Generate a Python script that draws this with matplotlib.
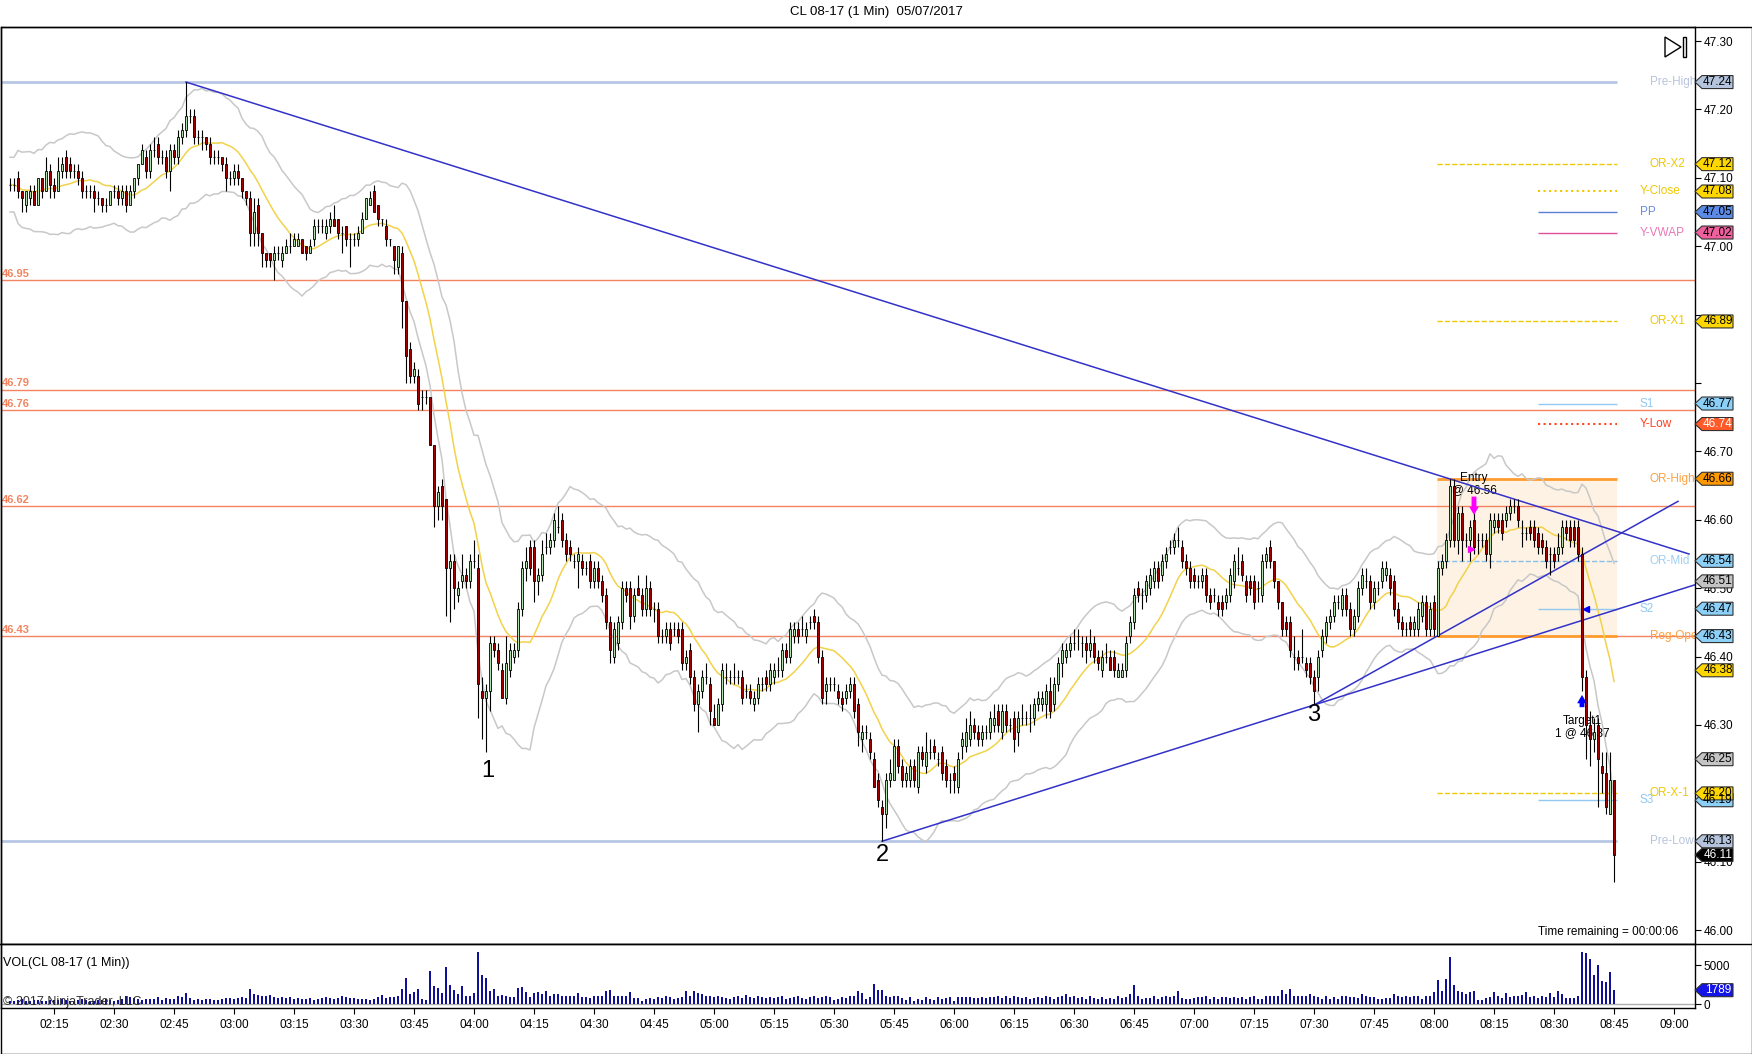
import numpy as np
import pandas as pd
import matplotlib
matplotlib.use('Agg')
import matplotlib.pyplot as plt
from matplotlib.patches import Rectangle, Polygon
from matplotlib.lines import Line2D

plt.rcParams['font.family'] = ['Liberation Sans', 'DejaVu Sans']

# CL 08-17, 1 min bars, first bar at 02:04; prices in cents above 46.00
start_minute = 2 * 60 + 4
opens = [
    109, 109, 110, 108, 106, 107, 108, 106, 110, 108,
    111, 109, 108, 111, 113, 112, 111, 111, 110, 108,
    108, 108, 107, 107, 106, 106, 108, 108, 107, 108,
    106, 108, 110, 112, 113, 111, 114, 115, 113, 113,
    111, 114, 113, 116, 117, 119, 119, 116, 116, 116,
    115, 113, 113, 113, 112, 110, 110, 111, 110, 108,
    107, 102, 106, 102, 99, 99, 98, 99, 98, 99,
    100, 100, 100, 101, 100, 99, 101, 103, 103, 102,
    103, 104, 104, 102, 103, 101, 101, 101, 102, 104,
    106, 108, 106, 104, 103, 101, 100, 97, 99, 92,
    85, 81, 81, 78, 78, 78, 71, 62, 65, 63,
    53, 54, 49, 51, 52, 51, 54, 53, 35, 34,
    35, 42, 41, 38, 34, 38, 40, 41, 47, 53,
    56, 56, 51, 52, 56, 56, 57, 59, 60, 57,
    56, 54, 54, 54, 53, 54, 51, 53, 51, 49,
    45, 40, 42, 45, 50, 50, 46, 50, 49, 47,
    50, 47, 47, 43, 43, 44, 44, 44, 44, 39,
    41, 37, 33, 35, 37, 36, 31, 30, 33, 37,
    37, 37, 37, 37, 35, 35, 33, 34, 36, 37,
    36, 37, 38, 38, 41, 40, 43, 44, 44, 43,
    45, 46, 45, 40, 35, 36, 36, 35, 34, 34,
    35, 36, 33, 28, 29, 28, 25, 22, 18, 17,
    22, 22, 27, 24, 22, 22, 24, 21, 26, 24,
    26, 27, 25, 26, 24, 22, 23, 21, 27, 27,
    28, 30, 29, 28, 29, 29, 30, 32, 29, 32,
    30, 31, 29, 31, 31, 31, 31, 33, 33, 33,
    35, 33, 36, 39, 40, 41, 42, 43, 42, 42,
    41, 42, 40, 38, 40, 40, 40, 37, 37, 38,
    43, 45, 50, 49, 49, 50, 51, 53, 52, 54,
    56, 56, 57, 56, 54, 53, 52, 51, 51, 52,
    49, 49, 48, 48, 48, 49, 51, 53, 54, 51,
    51, 51, 50, 49, 54, 56, 54, 51, 48, 45,
    45, 40, 40, 40, 39, 39, 37, 37, 41, 43,
    45, 46, 48, 47, 49, 47, 44, 46, 50, 51,
    51, 48, 50, 51, 52, 52, 51, 47, 45, 44,
    45, 44, 44, 46, 48, 44, 48, 43, 53, 54,
    57, 65, 57, 61, 57, 57, 60, 57, 57, 57,
    55, 59, 60, 60, 60, 61, 62, 62, 58, 58,
    59, 59, 58, 57, 56, 55, 55, 55, 56, 59,
    59, 59, 59, 55, 37, 30, 28, 30, 24, 23, 17, 22,
]
highs = [
    110, 110, 111, 108, 108, 109, 109, 110, 110, 113,
    112, 110, 113, 113, 114, 113, 112, 112, 111, 109,
    109, 109, 108, 107, 107, 108, 109, 109, 109, 109,
    109, 110, 112, 115, 114, 115, 116, 116, 114, 114,
    115, 115, 117, 118, 124, 120, 120, 117, 117, 116,
    116, 114, 114, 113, 113, 111, 112, 112, 110, 108,
    108, 107, 107, 102, 99, 99, 100, 100, 100, 101,
    102, 102, 102, 101, 100, 101, 104, 104, 104, 104,
    105, 106, 104, 103, 103, 102, 102, 103, 105, 107,
    108, 109, 106, 104, 104, 101, 100, 100, 100, 92,
    86, 83, 82, 79, 79, 78, 71, 65, 66, 63,
    55, 55, 51, 55, 53, 55, 57, 55, 37, 36,
    43, 43, 42, 39, 43, 42, 42, 48, 54, 56,
    57, 57, 53, 57, 58, 58, 61, 62, 61, 58,
    57, 55, 56, 55, 54, 55, 54, 54, 52, 50,
    46, 45, 46, 51, 51, 51, 50, 52, 50, 52,
    51, 48, 48, 44, 45, 45, 45, 45, 45, 41,
    42, 38, 36, 38, 39, 37, 33, 34, 39, 39,
    38, 39, 38, 38, 36, 36, 35, 37, 37, 38,
    39, 39, 40, 42, 42, 45, 45, 45, 46, 45,
    46, 47, 46, 41, 37, 37, 37, 36, 35, 36,
    37, 37, 34, 30, 30, 29, 26, 23, 19, 23,
    25, 28, 28, 25, 24, 25, 25, 27, 27, 29,
    28, 28, 26, 27, 25, 23, 24, 26, 29, 31,
    32, 31, 30, 30, 30, 32, 33, 33, 33, 33,
    31, 32, 32, 33, 32, 33, 34, 35, 35, 36,
    37, 37, 40, 42, 42, 43, 44, 44, 43, 43,
    44, 43, 41, 41, 42, 41, 41, 39, 39, 43,
    46, 50, 51, 50, 52, 53, 54, 54, 55, 56,
    57, 58, 59, 57, 55, 54, 53, 52, 53, 53,
    50, 50, 49, 49, 50, 53, 55, 56, 55, 52,
    52, 52, 51, 55, 56, 57, 54, 51, 48, 46,
    46, 43, 41, 44, 40, 40, 38, 41, 44, 46,
    47, 49, 49, 50, 50, 48, 47, 51, 53, 53,
    52, 51, 51, 54, 54, 53, 52, 48, 46, 45,
    46, 46, 48, 49, 49, 48, 49, 54, 55, 58,
    66, 66, 62, 62, 58, 60, 61, 58, 58, 58,
    61, 61, 61, 61, 62, 63, 63, 63, 60, 59,
    60, 60, 59, 58, 57, 56, 56, 58, 60, 60,
    60, 60, 60, 56, 38, 32, 31, 31, 26, 26, 26, 22,
]
lows = [
    108, 108, 107, 105, 105, 106, 106, 106, 107, 108,
    107, 107, 108, 110, 110, 110, 110, 109, 107, 107,
    107, 105, 106, 105, 105, 106, 107, 106, 106, 105,
    106, 107, 109, 112, 110, 110, 113, 112, 112, 110,
    108, 112, 112, 115, 116, 118, 115, 115, 114, 114,
    112, 112, 112, 111, 108, 109, 109, 109, 107, 106,
    100, 100, 100, 97, 97, 97, 95, 98, 97, 99,
    99, 100, 100, 99, 98, 99, 100, 102, 102, 101,
    102, 103, 101, 99, 100, 97, 100, 100, 102, 104,
    106, 105, 103, 103, 100, 100, 96, 96, 88, 80,
    80, 80, 76, 76, 77, 71, 59, 60, 60, 46,
    45, 47, 48, 50, 50, 50, 53, 31, 28, 26,
    32, 40, 38, 34, 33, 37, 39, 40, 46, 51,
    52, 48, 49, 51, 55, 55, 56, 58, 56, 54,
    54, 53, 50, 52, 52, 50, 50, 50, 48, 44,
    39, 39, 41, 44, 48, 44, 45, 49, 46, 46,
    46, 45, 42, 42, 42, 41, 43, 42, 38, 38,
    36, 32, 29, 34, 36, 30, 30, 30, 32, 36,
    36, 36, 36, 33, 34, 33, 32, 33, 35, 35,
    35, 36, 37, 37, 39, 39, 42, 42, 43, 42,
    44, 44, 39, 33, 33, 35, 35, 33, 32, 33,
    34, 31, 27, 26, 28, 25, 21, 18, 13, 15,
    21, 22, 23, 21, 21, 21, 21, 20, 24, 23,
    25, 25, 24, 22, 21, 20, 20, 20, 25, 26,
    27, 28, 27, 27, 28, 28, 29, 29, 28, 29,
    29, 26, 27, 30, 30, 29, 30, 32, 32, 31,
    31, 32, 35, 37, 39, 40, 41, 41, 40, 39,
    40, 39, 38, 37, 39, 38, 37, 37, 37, 37,
    42, 44, 48, 47, 48, 49, 50, 50, 51, 53,
    55, 55, 56, 53, 52, 50, 50, 50, 50, 48,
    47, 48, 46, 46, 47, 48, 50, 52, 51, 48,
    49, 47, 48, 48, 53, 53, 50, 47, 43, 43,
    40, 38, 38, 39, 37, 36, 33, 35, 40, 42,
    44, 45, 47, 46, 46, 43, 43, 45, 49, 50,
    47, 47, 49, 50, 51, 49, 46, 44, 43, 43,
    43, 43, 43, 45, 43, 43, 43, 43, 52, 53,
    56, 56, 55, 54, 56, 54, 55, 55, 56, 54,
    53, 58, 58, 57, 59, 60, 61, 59, 56, 57,
    57, 56, 55, 55, 53, 52, 53, 54, 55, 57,
    56, 56, 54, 35, 25, 24, 26, 18, 20, 17, 17, 7,
]
closes = [
    109, 109, 108, 107, 108, 108, 106, 110, 108, 111,
    109, 108, 111, 112, 111, 111, 111, 110, 108, 108,
    108, 107, 107, 106, 106, 108, 108, 107, 108, 106,
    108, 110, 112, 114, 111, 114, 114, 113, 113, 111,
    114, 113, 116, 117, 119, 119, 116, 116, 116, 115,
    113, 113, 113, 112, 110, 110, 111, 110, 108, 107,
    102, 105, 102, 99, 98, 98, 99, 99, 99, 100,
    100, 101, 101, 99, 99, 100, 103, 103, 103, 103,
    104, 103, 102, 102, 101, 101, 101, 102, 104, 107,
    107, 105, 104, 104, 101, 101, 98, 100, 92, 84,
    81, 82, 77, 78, 78, 71, 62, 64, 62, 53,
    54, 50, 50, 52, 51, 54, 54, 36, 34, 35,
    42, 41, 39, 34, 39, 41, 41, 47, 53, 54,
    53, 51, 52, 55, 56, 57, 60, 59, 57, 55,
    55, 54, 55, 53, 53, 51, 53, 51, 49, 45,
    41, 44, 45, 50, 49, 46, 49, 49, 47, 50,
    47, 47, 43, 43, 44, 42, 44, 43, 39, 40,
    37, 33, 35, 37, 37, 32, 30, 33, 38, 37,
    37, 37, 37, 34, 35, 34, 34, 36, 36, 36,
    38, 38, 38, 41, 40, 44, 44, 43, 44, 44,
    45, 45, 40, 34, 36, 36, 36, 34, 33, 35,
    36, 32, 29, 29, 29, 26, 21, 19, 17, 22,
    23, 27, 24, 22, 23, 24, 22, 26, 25, 26,
    26, 26, 25, 23, 22, 22, 22, 25, 28, 29,
    30, 29, 28, 29, 29, 31, 31, 30, 32, 30,
    30, 28, 31, 31, 31, 31, 33, 34, 34, 35,
    32, 36, 39, 41, 41, 42, 42, 43, 42, 41,
    42, 40, 39, 40, 40, 38, 38, 38, 38, 42,
    45, 49, 49, 49, 51, 52, 53, 51, 54, 55,
    56, 57, 57, 54, 53, 51, 51, 51, 52, 49,
    48, 49, 47, 47, 49, 52, 54, 53, 52, 49,
    50, 48, 50, 54, 55, 54, 51, 48, 44, 44,
    41, 40, 39, 40, 38, 37, 35, 40, 43, 45,
    46, 48, 48, 49, 47, 44, 46, 50, 52, 51,
    48, 50, 50, 53, 53, 50, 47, 45, 44, 44,
    44, 45, 47, 48, 44, 47, 44, 53, 54, 57,
    65, 57, 61, 57, 57, 59, 56, 57, 57, 55,
    60, 60, 59, 58, 61, 62, 62, 60, 58, 58,
    58, 57, 56, 56, 54, 55, 54, 56, 59, 58,
    57, 57, 55, 37, 30, 28, 29, 25, 23, 18, 22, 11,
]
volumes = [
    450, 380, 520, 610, 430, 390, 480, 560, 420, 350, 470,
    540, 480, 610, 520, 430, 380, 460, 700, 520, 410, 390, 480, 560, 620, 510,
    450, 520, 680, 1010, 940, 760, 620, 580, 640, 700, 610, 880, 560, 720, 650,
    590, 1100, 860, 1430, 780, 560, 610, 530, 590, 620, 480, 570, 660, 720, 840,
    600, 720, 930, 820, 1940, 1350, 1180, 1090, 980, 1140, 860, 790, 920, 760, 850,
    700, 820, 640, 590, 770, 560, 640, 720, 900, 810, 700, 760, 1000, 920, 780,
    840, 700, 620, 690, 560, 620, 880, 1200, 740, 960, 880, 1100, 1940, 3370, 1300,
    1510, 1940, 650, 520, 4280, 2290, 2030, 1430, 4800, 2460, 1860, 1300, 2290, 1000, 1000,
    1430, 6780, 3800, 3370, 1730, 1940, 1000, 1170, 1080, 860, 860, 2070, 2160, 1510, 860,
    1430, 1600, 1300, 1680, 1000, 1300, 1300, 1080, 1000, 1000, 1000, 1430, 860, 860, 730,
    1000, 1000, 1000, 1730, 1860, 1080, 1000, 1000, 1000, 1600, 730, 730, 430, 650, 730,
    650, 860, 730, 1000, 860, 600, 730, 860, 1730, 1000, 1730, 1430, 1300, 1080, 1000,
    860, 1000, 860, 730, 650, 860, 1000, 730, 1200, 860, 730, 1000, 860, 730, 860,
    730, 860, 1000, 650, 730, 860, 1080, 730, 650, 860, 1000, 730, 860, 1000, 860,
    500, 650, 860, 730, 1000, 1080, 1650, 1400, 650, 860, 2590, 1860, 1860, 1080, 860,
    1080, 1080, 730, 500, 860, 430, 650, 500, 860, 650, 500, 860, 650, 730, 860,
    430, 860, 860, 860, 860, 730, 730, 860, 730, 860, 860, 1000, 730, 1000, 730,
    1000, 860, 730, 860, 650, 730, 860, 730, 1000, 860, 650, 860, 1080, 1300, 860,
    1000, 730, 860, 650, 1000, 730, 650, 860, 650, 730, 650, 1080, 730, 860, 1300,
    2460, 1080, 650, 730, 730, 1000, 650, 860, 1000, 860, 1000, 1680, 730, 650, 650,
    730, 860, 860, 1000, 650, 860, 650, 860, 860, 730, 860, 730, 860, 650, 860,
    1000, 650, 650, 1000, 1000, 1000, 1000, 1800, 1300, 1940, 1080, 1080, 1080, 1000, 1300,
    1000, 860, 650, 1000, 650, 860, 650, 1080, 1000, 860, 860, 730, 1300, 1000, 860,
    860, 650, 650, 730, 730, 1300, 1000, 860, 1000, 860, 1080, 1000, 650, 1000, 1000,
    1600, 3150, 1730, 3280, 6050, 2500, 1640, 1510, 1340, 1510, 1640, 560, 560, 780, 860,
    1600, 990, 730, 1470, 860, 990, 990, 1210, 1600, 860, 990, 780, 990, 860, 1470,
    860, 1730, 1340, 780, 780, 780, 990, 6740, 6610, 5880, 3800, 5100, 2940, 2800, 4190, 1789,
]

# key levels drawn near the right edge
level_names = ['Pre-High', 'OR-X2', 'Y-Close', 'PP', 'Y-VWAP', 'OR-X1', 'S1', 'Y-Low',
               'OR-High', 'OR-Mid', 'S2', 'Reg-Open', 'S3', 'OR-X-1', 'Pre-Low']
level_values = [47.24, 47.12, 47.08, 47.05, 47.02, 46.89, 46.77, 46.74,
                46.66, 46.54, 46.47, 46.43, 46.19, 46.20, 46.13]
full_lines = [46.95, 46.79, 46.76, 46.62, 46.43]
extra_tags = [46.51, 46.38, 46.25]
last_price = 46.11
last_volume = 1789

# swing points 1, 2, 3 and the trend lines (bar index, price)
swing_labels = ['1', '2', '3']
swing_x = [119.5, 218, 326]
swing_y = [46.233, 46.11, 46.315]
trend_lines = [((44, 47.24), (419.75, 46.55)),
               ((218, 46.13), (421.25, 46.505)),
               ((326.25, 46.33), (417, 46.627))]

n = len(closes)
o = 46 + np.array(opens) / 100
c = 46 + np.array(closes) / 100
h = np.maximum(46 + np.array(highs) / 100, np.maximum(o, c))
l = np.minimum(46 + np.array(lows) / 100, np.minimum(o, c))
x = np.arange(n)

sma = pd.Series(c).rolling(14, min_periods=1).mean().values
rng = pd.Series(h - l).rolling(14, min_periods=1).mean().values
upper = sma + 2 * rng
lower = sma - 2 * rng

W, H = 1752, 1054
fig = plt.figure(figsize=(W / 100, H / 100), dpi=100)
AX_L, AX_R = 0.5, 1695.0
ax = fig.add_axes([AX_L / W, 1 - 944 / H, (AX_R - AX_L) / W, 917 / H])
axv = fig.add_axes([AX_L / W, 1 - 1008 / H, (AX_R - AX_L) / W, 64 / H], sharex=ax)

def xf(px):
    return (px - AX_L) / (AX_R - AX_L)

def tag(a, y, txt, fc, tc='black', half=0.0095, z=20):
    pts = [(xf(1695), y), (xf(1702), y + half), (xf(1733), y + half),
           (xf(1733), y - half), (xf(1702), y - half)]
    a.add_patch(Polygon(pts, closed=True, transform=a.get_yaxis_transform(), facecolor=fc,
                        edgecolor='#303030', lw=0.8, clip_on=False, zorder=z))
    a.text(xf(1718), y, txt, transform=a.get_yaxis_transform(), ha='center', va='center',
           fontsize=8.5, color=tc, clip_on=False, zorder=z + 1)

# opening range box
ax.add_patch(Rectangle((356.75, 46.43), 45, 0.23, facecolor='#fdf2e4', edgecolor='none', zorder=0.5))

for v in full_lines:
    ax.axhline(v, color='#f4845f', lw=1, zorder=1)
    ax.text(-2, v + 0.002, f'{v:.2f}', color='#f4845f', fontsize=8, fontweight='bold', va='bottom', zorder=2)

styles = {
    'Pre-High': dict(c='#b8c6e6', ls='-', lw=2, x0=-2.5, tc='#b8c4dc', fc='#b4c4dc', tx=410),
    'OR-X2': dict(c='#f0c800', ls='--', lw=1, x0=356.75, tc='#f0c800', fc='#ffd700', tx=410),
    'Y-Close': dict(c='#f0c800', ls=':', lw=1.5, x0=382, tc='#f0c800', fc='#ffd700', tx=407.5),
    'PP': dict(c='#5b7fd6', ls='-', lw=1, x0=382, tc='#6a8ce0', fc='#5b8be6', tx=407.5),
    'Y-VWAP': dict(c='#e0509a', ls='-', lw=1, x0=382, tc='#e878b8', fc='#f0609e', tx=407.5),
    'OR-X1': dict(c='#f0c800', ls='--', lw=1, x0=356.75, tc='#f0c800', fc='#ffd700', tx=410),
    'S1': dict(c='#90c8f0', ls='-', lw=1, x0=382, tc='#90c8f0', fc='#8cd0f8', tx=407.5),
    'Y-Low': dict(c='#ff4820', ls=':', lw=1.5, x0=382, tc='#ff4020', fc='#ff5a28', tx=407.5),
    'OR-High': dict(c='#ff9c30', ls='-', lw=2, x0=356.75, tc='#ffa040', fc='#ff9900', tx=410),
    'OR-Mid': dict(c='#88c0ec', ls='--', lw=1, x0=356.75, tc='#a0d0f0', fc='#8cd0f8', tx=410),
    'S2': dict(c='#90c8f0', ls='-', lw=1, x0=382, tc='#90c8f0', fc='#8cd0f8', tx=407.5),
    'Reg-Open': dict(c='#ff9c30', ls='-', lw=2, x0=356.75, tc='#ffa040', fc='#8cd0f8', tx=410),
    'S3': dict(c='#90c8f0', ls='-', lw=1, x0=382, tc='#90c8f0', fc='#8cd0f8', tx=407.5),
    'OR-X-1': dict(c='#f0c800', ls='--', lw=1, x0=356.75, tc='#f0c800', fc='#ffd700', tx=410),
    'Pre-Low': dict(c='#b8c6e6', ls='-', lw=2, x0=-2.5, tc='#b8c4dc', fc='#b4c4dc', tx=410),
}
for name, v in zip(level_names, level_values):
    s = styles[name]
    ax.hlines(v, s['x0'], 401.75, colors=s['c'], linestyles=s['ls'], lw=s['lw'], zorder=1.5)
    ax.text(s['tx'], v, name, color=s['tc'], fontsize=8.5, va='center', ha='left', zorder=2)
    tag(ax, v, f'{v:.2f}', s['fc'], 'white' if name == 'Y-Low' else 'black')

for v, fc in zip(extra_tags, ['#c4c4c4', '#ffd700', '#c4c4c4']):
    tag(ax, v, f'{v:.2f}', fc)
tag(ax, last_price, f'{last_price:.2f}', '#000000', 'white', z=30)

# Keltner-style bands and moving average
ax.plot(x, upper, color='#c8c8c8', lw=1.1, zorder=2)
ax.plot(x, lower, color='#c8c8c8', lw=1.1, zorder=2)
ax.plot(x, sma, color='#f2d24a', lw=1.1, zorder=2.2)

for (x0, y0), (x1, y1) in trend_lines:
    ax.plot([x0, x1], [y0, y1], color='#3232c8', lw=1.1, zorder=2.5)

# candles
ax.vlines(x, l, h, color='black', lw=0.8, zorder=3)
for i in range(n):
    up = c[i] >= o[i]
    ax.add_patch(Rectangle((i - 0.32, min(o[i], c[i])), 0.64, abs(c[i] - o[i]),
                           facecolor='#b4e0b0' if up else '#a40000',
                           edgecolor='black', lw=0.6, zorder=4))

for t, sx, sy in zip(swing_labels, swing_x, swing_y):
    ax.text(sx, sy, t, fontsize=17, ha='center', va='center', zorder=5)

# trade markers
ax.annotate('', xy=(366, 46.603), xytext=(366, 46.638),
            arrowprops=dict(arrowstyle='simple,head_width=0.7,head_length=0.6,tail_width=0.35',
                            color='#ff00ff', lw=0), zorder=6)
ax.plot([365.2], [46.558], marker='>', color='#ff00ff', ms=5, zorder=6)
ax.annotate('', xy=(393, 46.348), xytext=(393, 46.322),
            arrowprops=dict(arrowstyle='simple,head_width=0.7,head_length=0.6,tail_width=0.35',
                            color='#0000ff', lw=0), zorder=6)
ax.plot([394], [46.47], marker='<', color='#0000ff', ms=5, zorder=6)
ax.text(366, 46.652, 'Entry\n@ 46.56', fontsize=8.5, ha='center', va='center', linespacing=1.0, zorder=2)
ax.text(393, 46.297, 'Target1\n1 @ 46.37', fontsize=8.5, ha='center', va='center', linespacing=1.0, zorder=2)
ax.text(417, 45.998, 'Time remaining = 00:00:06', fontsize=8.5, ha='right', va='center')

ax.set_xlim(-2.375, 421.25)
ax.set_ylim(45.9798, 47.3205)
yt = np.round(np.arange(46.0, 47.31, 0.1), 2)
ax.yaxis.tick_right()
ax.set_yticks(yt)
ax.set_yticklabels(['' if v in (46.9, 46.8, 46.2) else f'{v:.2f}' for v in yt])
ax.tick_params(axis='y', length=4, pad=2, labelsize=8.5, direction='out')
ax.tick_params(axis='x', bottom=False, labelbottom=False)

# volume panel
axv.bar(x, volumes, width=0.45, color='#10109a', zorder=3)
axv.axhline(0, color='#b0b0b0', lw=1, zorder=2)
axv.set_ylim(-518, 7772)
axv.yaxis.tick_right()
axv.set_yticks([0, 5000])
axv.set_yticklabels(['0', '5000'])
axv.tick_params(axis='y', length=4, pad=2, labelsize=8.5)
xt = np.arange(11, 420, 15)
axv.set_xticks(xt)
axv.set_xticklabels([f'{(start_minute + i) // 60:02d}:{(start_minute + i) % 60:02d}' for i in xt])
axv.tick_params(axis='x', length=4, pad=4, labelsize=8.5)
tag(axv, last_volume, str(last_volume), '#1414e6', 'white', half=842)
axv.text(-1.7, 5350, 'VOL(CL 08-17 (1 Min))', fontsize=9, va='center')
axv.text(-1.8, 260, '\u00a9 2017 NinjaTrader, LLC', fontsize=9, color='#303030', va='center')

for a in (ax, axv):
    for sp in a.spines.values():
        sp.set_color('black')
        sp.set_linewidth(1)

# title, outer frame, play icon
fig.text(876 / W, 1 - 12 / H, 'CL 08-17 (1 Min)  05/07/2017', ha='center', va='center', fontsize=9.5)
fig.add_artist(Rectangle((0.5 / W, 1 - 1053.5 / H), 1751 / W, 1026.5 / H, fill=False,
                         edgecolor='black', lw=1, transform=fig.transFigure))
fig.add_artist(Line2D([0, 1], [1 - 944 / H] * 2, color='black', lw=1, transform=fig.transFigure))

def fp(px, py):
    return (px / W, 1 - py / H)

fig.add_artist(Polygon([fp(1665, 37), fp(1665, 57), fp(1681, 47)], closed=True, fill=False,
                       edgecolor='black', lw=1, transform=fig.transFigure))
fig.add_artist(Rectangle(fp(1683, 57), 3 / W, 20 / H, fill=False, edgecolor='black', lw=1,
                         transform=fig.transFigure))

fig.savefig('out.png', dpi=100)
